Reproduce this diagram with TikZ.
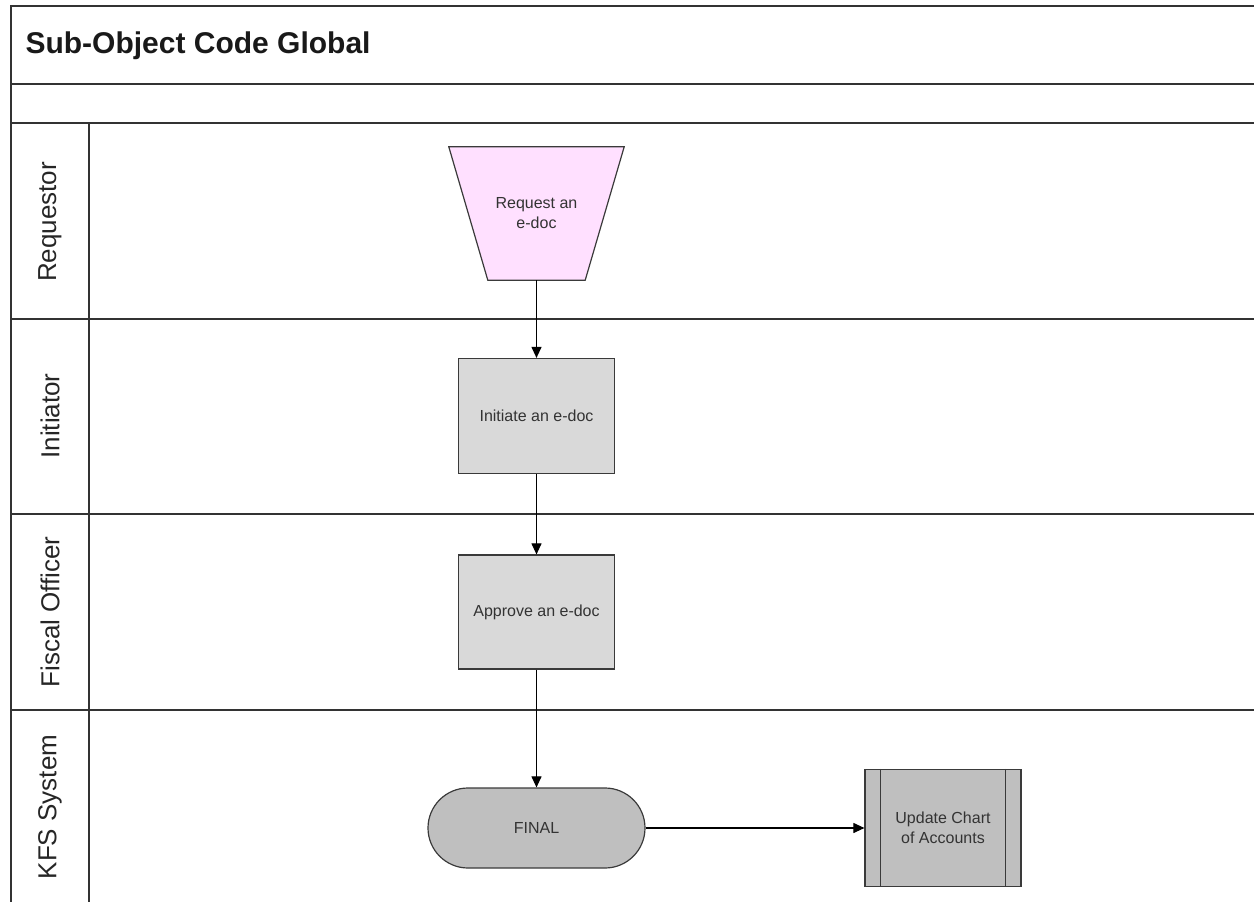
\documentclass[tikz,border=0pt]{standalone}
\usepackage{fontspec}
\setmainfont{Liberation Sans}
\usetikzlibrary{arrows.meta,calc,backgrounds}
\definecolor{lanecol}{HTML}{333333}
\definecolor{edgecol}{HTML}{3A3A3A}
\definecolor{pinkfill}{HTML}{FFE0FF}
\definecolor{lightgray}{HTML}{D9D9D9}
\definecolor{midgray}{HTML}{BFBFBF}
\tikzset{
  laneline/.style={draw=lanecol,line width=1.8pt},
  lanelabel/.style={rotate=90,font=\fontsize{26}{31}\selectfont,text=black!85},
  boxtext/.style={font=\fontsize{16}{19}\selectfont,text=black!80,align=center,inner sep=0pt},
  procbox/.style={boxtext,draw=edgecol,line width=1.2pt,fill=lightgray,minimum width=156pt,minimum height=115pt},
  flow/.style={draw=black,line width=1.1pt,-{Triangle[length=11pt,width=10pt]}}
}
\begin{document}
\begin{tikzpicture}[x=1pt,y=-1pt]
\useasboundingbox (0,0) rectangle (1254,902);
% frame and lanes
\draw[laneline] (11,902) -- (11,6) -- (1254,6);
\draw[laneline] (11,84) -- (1254,84);
\draw[laneline] (11,123) -- (1254,123);
\draw[laneline] (11,319) -- (1254,319);
\draw[laneline] (11,514) -- (1254,514);
\draw[laneline] (11,710) -- (1254,710);
\draw[laneline] (89,123) -- (89,902);
\node[anchor=west,font=\fontsize{30}{35}\selectfont\bfseries,text=black!90] (title) at (22,46) {Sub-Object Code Global};
\node[lanelabel] (l1) at (50,222) {Requestor};
\node[lanelabel] (l2) at (50,416) {Initiator};
\node[lanelabel] (l3) at (50,612) {Fiscal Officer};
\node[lanelabel] (l4) at (50,807) {KFS System};
% shapes
\node[boxtext,minimum width=175pt,minimum height=133pt] (req) at (536.5,213.5) {Request an\\[1pt]e-doc};
\begin{scope}[on background layer]
\draw[draw=edgecol,line width=1.2pt,fill=pinkfill] (req.north west) -- (req.north east) -- ($(req.south east)+(-39,0)$) -- ($(req.south west)+(39,0)$) -- cycle;
\end{scope}
\node[procbox] (init) at (536.5,416) {Initiate an e-doc};
\node[procbox,minimum height=114pt] (appr) at (536.5,612) {Approve an e-doc};
\node[boxtext,draw=edgecol,line width=1.2pt,fill=midgray,rounded corners=40pt,minimum width=217pt,minimum height=80pt] (fin) at (536.5,828) {FINAL};
\node[procbox,fill=midgray,minimum height=117pt] (upd) at (943,828) {Update Chart\\[1pt]of Accounts};
\draw[draw=edgecol,line width=1.2pt] ($(upd.north west)+(16,0)$) -- ($(upd.south west)+(16,0)$);
\draw[draw=edgecol,line width=1.2pt] ($(upd.north east)+(-16,0)$) -- ($(upd.south east)+(-16,0)$);
% connectors
\draw[flow] (req.south) -- (init.north);
\draw[flow] (init.south) -- (appr.north);
\draw[flow] (appr.south) -- (fin.north);
\draw[flow] (fin.east) -- (upd.west);
\end{tikzpicture}
\end{document}
